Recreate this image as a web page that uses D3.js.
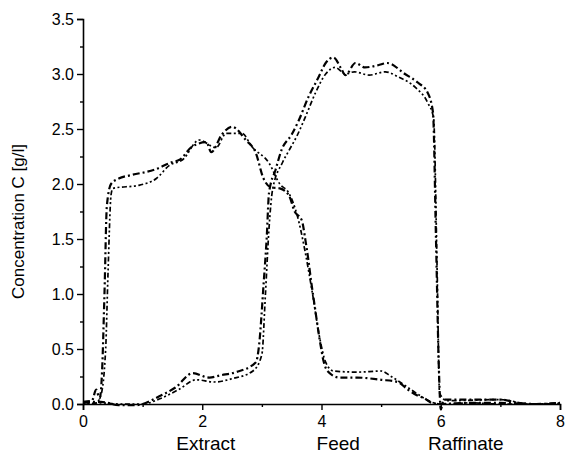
<!DOCTYPE html>
<html>
<head>
<meta charset="utf-8">
<script src="https://cdn.jsdelivr.net/npm/d3@7"></script>
<style>
  body { margin: 0; background: #fff; }
  svg text { font-family: Arial, "Liberation Sans", sans-serif; fill: #000; }
</style>
</head>
<body>
<svg id="chart" width="566" height="461"></svg>
<script>
// Extract component, dash-dot curve
const extractAX = [0, 0.15, 0.22, 0.28, 0.32, 0.36, 0.40, 0.47, 0.6, 0.8, 1.2, 1.5, 1.62, 1.83, 2.07, 2.15, 2.33, 2.5, 2.73, 2.9, 3.02, 3.15, 3.3, 3.45, 3.55, 3.67, 3.73, 3.78, 3.83, 3.87, 3.98, 4.03, 4.1, 4.3, 4.6, 5.0, 5.28, 5.45, 5.6, 5.73, 5.85, 6.0, 6.5, 7.0, 7.5, 8.0];
const extractAY = [0.02, 0.03, 0.13, 0.05, 0.3, 1.0, 1.8, 2.0, 2.05, 2.08, 2.13, 2.2, 2.22, 2.34, 2.38, 2.29, 2.45, 2.52, 2.4, 2.28, 2.06, 1.97, 1.96, 1.9, 1.75, 1.67, 1.49, 1.31, 1.1, 0.95, 0.55, 0.4, 0.3, 0.24, 0.24, 0.22, 0.2, 0.13, 0.08, 0.05, 0.01, 0.0, 0.01, 0.01, 0.0, 0.0];

// Extract component, dotted curve
const extractBX = [0, 0.2, 0.3, 0.38, 0.42, 0.47, 0.5, 0.95, 1.23, 1.45, 1.67, 1.95, 2.23, 2.4, 2.67, 2.83, 3.12, 3.3, 3.45, 3.6, 3.72, 3.85, 3.97, 4.07, 4.2, 4.6, 5.0, 5.17, 5.45, 5.7, 5.83, 6.0, 6.5, 7.0, 7.5, 8.0];
const extractBY = [0.02, 0.0, 0.08, 0.5, 1.2, 1.9, 1.96, 1.99, 2.05, 2.17, 2.22, 2.4, 2.33, 2.46, 2.46, 2.34, 2.19, 2.0, 1.92, 1.7, 1.4, 1.0, 0.6, 0.38, 0.3, 0.29, 0.3, 0.25, 0.15, 0.06, 0.02, 0.0, 0.01, 0.0, 0.0, 0.0];

// Raffinate component, dash-dot curve
const raffAX = [0, 0.3, 0.6, 0.9, 1.0, 1.28, 1.55, 1.84, 2.12, 2.3, 2.57, 2.9, 2.95, 3.03, 3.08, 3.12, 3.23, 3.33, 3.5, 3.62, 3.78, 3.95, 4.07, 4.2, 4.33, 4.4, 4.57, 4.73, 4.95, 5.1, 5.4, 5.62, 5.78, 5.87, 5.92, 5.97, 6.0, 6.05, 6.5, 7.0, 7.3, 7.6, 8.0];
const raffAY = [0.01, 0.02, -0.01, -0.01, 0.0, 0.07, 0.15, 0.28, 0.24, 0.26, 0.29, 0.38, 0.52, 1.1, 1.5, 1.92, 2.13, 2.31, 2.45, 2.58, 2.79, 2.97, 3.1, 3.15, 3.05, 2.99, 3.1, 3.06, 3.08, 3.1, 3.0, 2.92, 2.83, 2.65, 1.5, 0.3, -0.05, 0.04, 0.04, 0.04, 0.01, 0.0, 0.01];

// Raffinate component, dotted curve
const raffBX = [0, 0.3, 0.6, 1.0, 1.3, 1.6, 1.9, 2.2, 2.5, 2.85, 3.0, 3.06, 3.12, 3.18, 3.35, 3.45, 3.6, 3.73, 3.9, 4.07, 4.23, 4.4, 4.55, 4.8, 5.07, 5.3, 5.57, 5.78, 5.88, 5.94, 5.98, 6.1, 7.0, 7.5, 8.0];
const raffBY = [0.0, 0.01, 0.0, 0.0, 0.05, 0.13, 0.22, 0.2, 0.23, 0.3, 0.45, 1.0, 1.6, 1.95, 2.2, 2.3, 2.45, 2.61, 2.83, 3.0, 3.06, 3.0, 3.02, 2.99, 3.02, 2.97, 2.88, 2.74, 2.6, 1.2, 0.1, 0.03, 0.04, 0.0, 0.01];

// Zone names written under the x axis, at their positions along the column
const zoneNames = ["Extract", "Feed", "Raffinate"];
const zoneX = [2.06, 4.28, 6.42];

const xTicks = [0, 2, 4, 6, 8];
const yTicks = [0, 0.5, 1.0, 1.5, 2.0, 2.5, 3.0, 3.5];

const svg = d3.select("#chart");

const x = d3.scaleLinear().domain([0, 8]).range([83, 560]);
const y = d3.scaleLinear().domain([0, 3.5]).range([404, 19]);

// Axes: major ticks labelled, minor ticks in between
const xMinor = d3.range(0, 8.01, 1).filter(v => !xTicks.includes(v));
const yMinor = d3.range(0, 3.51, 0.25).filter(v => !yTicks.some(t => Math.abs(t - v) < 1e-9));

const gx = svg.append("g").attr("transform", `translate(0,${y(0)})`)
  .call(d3.axisBottom(x).tickValues(xTicks).tickFormat(d3.format("d")).tickSizeOuter(0).tickSize(6).tickPadding(6));
svg.append("g").attr("transform", `translate(0,${y(0)})`)
  .call(d3.axisBottom(x).tickValues(xMinor).tickFormat("").tickSizeOuter(0).tickSize(3))
  .select(".domain").remove();

const gy = svg.append("g").attr("transform", `translate(${x(0)},0)`)
  .call(d3.axisLeft(y).tickValues(yTicks).tickFormat(d3.format(".1f")).tickSizeOuter(0).tickSize(6).tickPadding(3));
svg.append("g").attr("transform", `translate(${x(0)},0)`)
  .call(d3.axisLeft(y).tickValues(yMinor).tickFormat("").tickSizeOuter(0).tickSize(3))
  .select(".domain").remove();

svg.selectAll(".domain").attr("stroke", "#000").attr("stroke-width", 1.6);
svg.selectAll(".tick line").attr("stroke", "#000").attr("stroke-width", 1.4);
gx.selectAll("text").style("font-size", "16px").style("font-family", "Arial, 'Liberation Sans', sans-serif");
gy.selectAll("text").style("font-size", "16px").style("font-family", "Arial, 'Liberation Sans', sans-serif");

// Y axis title
svg.append("text")
  .attr("transform", `translate(24,${(y(0) + y(3.5)) / 2 + 10}) rotate(-90)`)
  .attr("text-anchor", "middle")
  .style("font-size", "17px")
  .text("Concentration C [g/l]");

// Zone names
svg.selectAll(".zone").data(zoneNames).enter().append("text")
  .attr("class", "zone")
  .attr("x", (d, i) => x(zoneX[i]))
  .attr("y", 450)
  .attr("text-anchor", "middle")
  .style("font-size", "19px")
  .text(d => d);

// Concentration profiles
const line = d3.line().x(d => x(d[0])).y(d => y(d[1])).curve(d3.curveMonotoneX);
const series = [
  { xs: extractAX, ys: extractAY, dash: "7,3,2,3", w: 2.2 },
  { xs: extractBX, ys: extractBY, dash: "2,2.5,2,2.5,5,2.5", w: 1.7 },
  { xs: raffAX, ys: raffAY, dash: "7,3,2,3", w: 2.2 },
  { xs: raffBX, ys: raffBY, dash: "2,2.5,2,2.5,5,2.5", w: 1.7 }
];
const plot = svg.append("g");
series.forEach(s => {
  plot.append("path")
    .datum(s.xs.map((v, i) => [v, s.ys[i]]))
    .attr("fill", "none")
    .attr("stroke", "#000")
    .attr("stroke-width", s.w)
    .attr("stroke-dasharray", s.dash)
    .attr("d", line);
});
</script>
</body>
</html>
